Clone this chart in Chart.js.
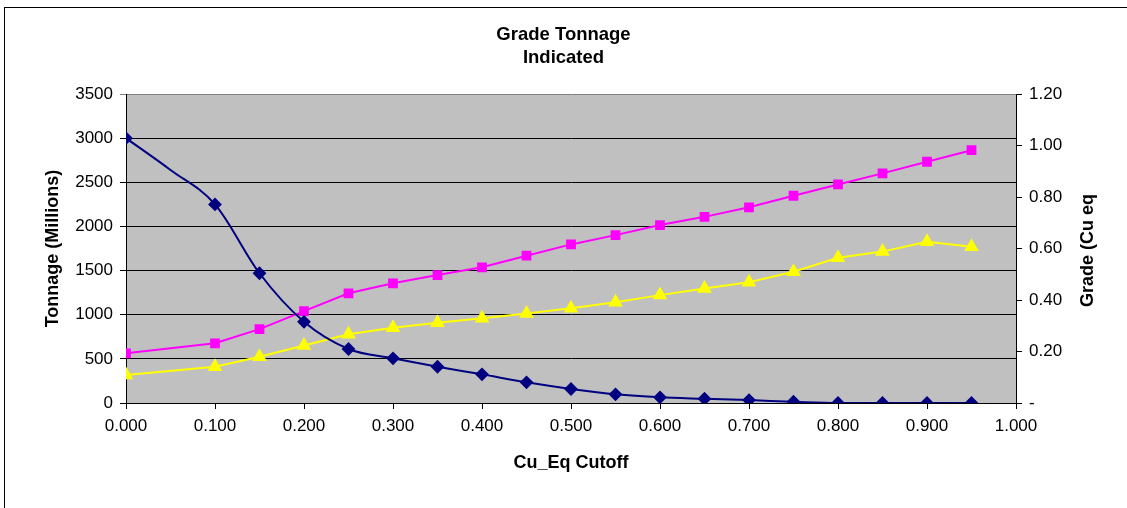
<!DOCTYPE html>
<html>
<head>
<meta charset="utf-8">
<script src="https://cdn.jsdelivr.net/npm/chart.js@4/dist/chart.umd.min.js"></script>
<style>
  html, body { margin: 0; padding: 0; background: #fff; }
  #wrap { width: 1127px; height: 508px; position: relative; }
</style>
</head>
<body>
<div id="wrap"><canvas id="chart" width="1127" height="508"></canvas></div>
<script>
// cutoff grades (Cu eq)
var tonnageCutoff = [0, 0.05, 0.1, 0.15, 0.2, 0.25, 0.3, 0.35, 0.4, 0.45, 0.5, 0.55, 0.6, 0.65, 0.7, 0.75, 0.8, 0.85, 0.9, 0.95];
var tonnage = [3000, 2640, 2250, 1470, 920, 612, 506, 411, 325, 234, 159, 98, 64, 48, 33, 14, 0, 0, 0, 0];
var gradeCutoff = [0, 0.1, 0.15, 0.2, 0.25, 0.3, 0.35, 0.4, 0.45, 0.5, 0.55, 0.6, 0.65, 0.7, 0.75, 0.8, 0.85, 0.9, 0.95];
var gradeCuEq = [0.193, 0.232, 0.287, 0.357, 0.426, 0.465, 0.497, 0.527, 0.572, 0.616, 0.652, 0.691, 0.723, 0.760, 0.805, 0.849, 0.892, 0.937, 0.982];
var gradeCu = [0.109, 0.141, 0.180, 0.223, 0.267, 0.292, 0.312, 0.329, 0.348, 0.368, 0.391, 0.419, 0.445, 0.469, 0.510, 0.564, 0.588, 0.626, 0.607];

function pairs(xs, ys) {
    let set = [];
    for (let i = 0; i < xs.length; i++) {
        set.push({x: xs[i], y: ys[i]});
    }
    return set;
}

var FONT = "'Liberation Sans', Arial, sans-serif";

var backdrop = {
    id: 'backdrop',
    beforeDraw: function(chart) {
        var c = chart.ctx, a = chart.chartArea;
        c.save();
        c.fillStyle = '#fff';
        c.fillRect(0, 0, chart.width, chart.height);
        c.fillStyle = '#c0c0c0';
        c.fillRect(a.left, a.top, a.right - a.left, a.bottom - a.top);
        c.strokeStyle = '#000';
        c.lineWidth = 1;
        c.strokeRect(4.5, 7.5, 1300, 700);
        c.restore();
    },
    afterDraw: function(chart) {
        // right axis title reads bottom-to-top like the left one
        var c = chart.ctx, a = chart.chartArea;
        c.save();
        c.translate(1088, (a.top + a.bottom) / 2 + 2);
        c.rotate(-Math.PI / 2);
        c.font = 'bold 18px ' + FONT;
        c.fillStyle = '#000';
        c.textAlign = 'center';
        c.textBaseline = 'middle';
        c.fillText('Grade (Cu eq', 0, 0);
        c.restore();
    }
};

var ctx = document.getElementById('chart').getContext('2d');
var mychart = new Chart(ctx, {
    type: 'line',
    data: {
        datasets: [{
            label: 'Tonnage',
            data: pairs(tonnageCutoff, tonnage),
            yAxisID: 'y',
            borderColor: '#000080',
            backgroundColor: '#000080',
            borderWidth: 2,
            pointStyle: 'rectRot',
            pointRadius: function(c) { return c.raw && c.raw.x === 0.05 ? 0 : 5.5; },
            cubicInterpolationMode: 'monotone',
            fill: false
        },
        {
            label: 'Grade Cu eq',
            data: pairs(gradeCutoff, gradeCuEq),
            yAxisID: 'y1',
            borderColor: '#ff00ff',
            backgroundColor: '#ff00ff',
            borderWidth: 2,
            pointStyle: 'rect',
            pointRadius: 5.5,
            tension: 0,
            fill: false
        },
        {
            label: 'Grade Cu',
            data: pairs(gradeCutoff, gradeCu),
            yAxisID: 'y1',
            borderColor: '#ffff00',
            backgroundColor: '#ffff00',
            borderWidth: 2,
            pointStyle: 'triangle',
            pointRadius: 6.5,
            tension: 0,
            fill: false
        }]
    },
    options: {
        responsive: false,
        animation: false,
        layout: { padding: 0 },
        plugins: {
            legend: { display: false },
            tooltip: { enabled: false },
            title: {
                display: true,
                text: ['Grade Tonnage', 'Indicated'],
                color: '#000',
                font: { family: FONT, size: 18.5, weight: 'bold', lineHeight: 1.25 },
                padding: { top: 23.5, bottom: 24.3 }
            }
        },
        scales: {
            x: {
                type: 'linear',
                min: 0,
                max: 1,
                afterFit: function(s) { s.height = 105; },
                ticks: {
                    stepSize: 0.1,
                    color: '#000',
                    padding: 7,
                    maxRotation: 0,
                    font: { family: FONT, size: 17 },
                    callback: function(v) { return v.toFixed(3); }
                },
                grid: { drawOnChartArea: false, drawTicks: true, tickLength: 6, color: '#000' },
                border: { display: true, color: '#000' },
                title: {
                    display: true,
                    text: 'Cu_Eq Cutoff',
                    color: '#000',
                    font: { family: FONT, size: 18, weight: 'bold' },
                    padding: { top: 0, bottom: 34 }
                }
            },
            y: {
                position: 'left',
                min: 0,
                max: 3500,
                afterFit: function(s) { s.width = 126; },
                ticks: {
                    stepSize: 500,
                    color: '#000',
                    padding: 7,
                    font: { family: FONT, size: 17 },
                    callback: function(v) { return String(v); }
                },
                grid: {
                    tickLength: 6,
                    color: function(c) { return c.tick && c.tick.value === 3500 ? '#808080' : '#000'; }
                },
                border: { display: true, color: '#000' },
                title: {
                    display: true,
                    text: 'Tonnage (Millions)',
                    color: '#000',
                    font: { family: FONT, size: 18, weight: 'bold' },
                    padding: { top: 42, bottom: 0 }
                }
            },
            y1: {
                position: 'right',
                min: 0,
                max: 1.2,
                afterFit: function(s) { s.width = 111; },
                ticks: {
                    stepSize: 0.2,
                    color: '#000',
                    padding: 7,
                    font: { family: FONT, size: 17 },
                    callback: function(v) { return Math.abs(v) < 1e-9 ? '-' : v.toFixed(2); }
                },
                grid: { drawOnChartArea: false, drawTicks: true, tickLength: 6, color: '#000' },
                border: { display: true, color: '#000' }
            }
        }
    },
    plugins: [backdrop]
});
</script>
</body>
</html>
